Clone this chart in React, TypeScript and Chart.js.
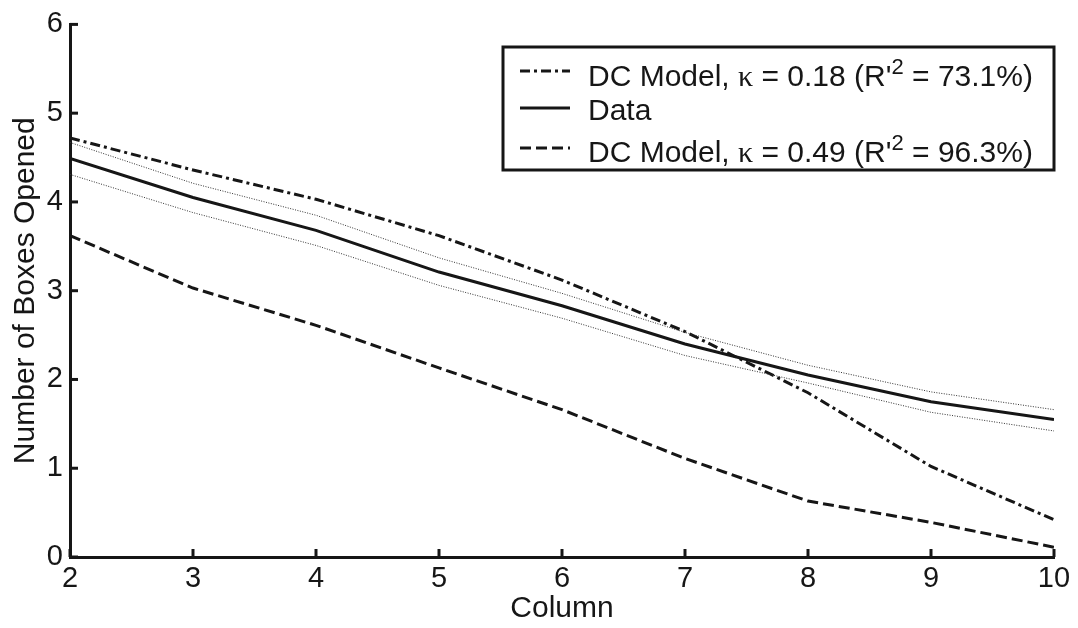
import React, { useEffect, useRef } from "react";
import { Chart, registerables } from "chart.js";
Chart.register(...registerables);

const columns = [2, 3, 4, 5, 6, 7, 8, 9, 10];
const dataMean = [4.49, 4.05, 3.68, 3.21, 2.83, 2.4, 2.05, 1.75, 1.55];
const dataUpper = [4.67, 4.21, 3.85, 3.37, 2.97, 2.53, 2.16, 1.86, 1.66];
const dataLower = [4.31, 3.88, 3.51, 3.06, 2.69, 2.27, 1.96, 1.63, 1.42];
const model018 = [4.72, 4.36, 4.03, 3.62, 3.12, 2.54, 1.85, 1.02, 0.42];
const model049 = [3.62, 3.03, 2.61, 2.13, 1.66, 1.11, 0.63, 0.39, 0.11];
const xTicks = [2, 3, 4, 5, 6, 7, 8, 9, 10];
const yTicks = [0, 1, 2, 3, 4, 5, 6];
const xTitle = "Column";
const yTitle = "Number of Boxes Opened";
const legendKappa = ["0.18", "", "0.49"];
const legendR2 = ["73.1%", "", "96.3%"];

const SANS = "'Liberation Sans', Arial, sans-serif";
const SERIF = "'Liberation Serif', 'DejaVu Serif', serif";
const INK = "#161616";

const toPts = (ys: number[]) => columns.map((x, i) => ({ x, y: ys[i] }));

const dashDot = [10, 4, 3, 4];
const dashed = [11, 5];

const tickPlugin = {
  id: "inwardTicks",
  afterDatasetsDraw(chart: any) {
    const { ctx, chartArea, scales } = chart;
    ctx.save();
    ctx.strokeStyle = INK;
    ctx.lineWidth = 3;
    ctx.setLineDash([]);
    xTicks.forEach((v) => {
      const px = scales.x.getPixelForValue(v);
      ctx.beginPath();
      ctx.moveTo(px, chartArea.bottom);
      ctx.lineTo(px, chartArea.bottom - 8);
      ctx.stroke();
    });
    yTicks.forEach((v) => {
      const py = scales.y.getPixelForValue(v);
      ctx.beginPath();
      ctx.moveTo(chartArea.left, py);
      ctx.lineTo(chartArea.left + 8, py);
      ctx.stroke();
    });
    ctx.restore();
  },
};

const legendPlugin = {
  id: "customLegend",
  afterDraw(chart: any) {
    const { ctx } = chart;
    ctx.save();
    const bx = 503, by = 47, bw = 551, bh = 123;
    ctx.fillStyle = "#fff";
    ctx.fillRect(bx, by, bw, bh);
    ctx.strokeStyle = INK;
    ctx.lineWidth = 3;
    ctx.setLineDash([]);
    ctx.strokeRect(bx, by, bw, bh);

    const rows = [
      { lineY: 71, base: 86, dash: dashDot, kind: 0 },
      { lineY: 108, base: 120, dash: [] as number[], kind: 1 },
      { lineY: 148, base: 162, dash: dashed, kind: 2 },
    ];
    rows.forEach((r, i) => {
      ctx.strokeStyle = INK;
      ctx.lineWidth = 3;
      ctx.setLineDash(r.dash);
      ctx.beginPath();
      ctx.moveTo(520, r.lineY);
      ctx.lineTo(570, r.lineY);
      ctx.stroke();
      ctx.setLineDash([]);
      ctx.fillStyle = INK;
      ctx.textBaseline = "alphabetic";
      ctx.textAlign = "left";
      let x = 588;
      const put = (t: string, font: string, dy = 0) => {
        ctx.font = font;
        ctx.fillText(t, x, r.base + dy);
        x += ctx.measureText(t).width;
      };
      if (r.kind === 1) {
        put("Data", `30px ${SANS}`);
      } else {
        put("DC Model, ", `30px ${SANS}`);
        put("\u03BA", `30px ${SERIF}`);
        put(" = " + legendKappa[i] + " (R'", `30px ${SANS}`);
        put("2", `22px ${SANS}`, -12);
        put(" = " + legendR2[i] + ")", `30px ${SANS}`);
      }
    });
    ctx.restore();
  },
};

export default function App() {
  const ref = useRef<HTMLCanvasElement>(null);
  useEffect(() => {
    if (!ref.current) return;
    const font = { family: SANS, size: 29 };
    const chart = new Chart(ref.current, {
      type: "line",
      data: {
        datasets: [
          {
            label: "upper",
            data: toPts(dataUpper),
            borderColor: "#333",
            borderWidth: 1,
            borderDash: [1, 1.5],
            pointRadius: 0,
          },
          {
            label: "lower",
            data: toPts(dataLower),
            borderColor: "#333",
            borderWidth: 1,
            borderDash: [1, 1.5],
            pointRadius: 0,
          },
          {
            label: "Data",
            data: toPts(dataMean),
            borderColor: INK,
            borderWidth: 3,
            pointRadius: 0,
          },
          {
            label: "DC Model, κ = 0.18",
            data: toPts(model018),
            borderColor: INK,
            borderWidth: 3,
            borderDash: dashDot,
            pointRadius: 0,
          },
          {
            label: "DC Model, κ = 0.49",
            data: toPts(model049),
            borderColor: INK,
            borderWidth: 3,
            borderDash: dashed,
            pointRadius: 0,
          },
        ],
      },
      options: {
        animation: false,
        responsive: false,
        layout: { padding: { top: 15, right: 24, left: 0, bottom: 0 } },
        plugins: { legend: { display: false }, tooltip: { enabled: false } },
        elements: { line: { tension: 0 } },
        scales: {
          x: {
            type: "linear",
            min: 2,
            max: 10,
            ticks: { stepSize: 1, color: INK, font, padding: 5 },
            grid: { display: false, drawTicks: false },
            border: { display: true, width: 3, color: INK },
            title: { display: true, text: xTitle, color: INK, font: { family: SANS, size: 30 }, padding: { top: 0, bottom: 1 } },
            afterFit: (s: any) => {
              s.height = 71;
            },
          },
          y: {
            type: "linear",
            min: 0,
            max: 6,
            ticks: { stepSize: 1, color: INK, font, padding: 7 },
            grid: { display: false, drawTicks: false },
            border: { display: true, width: 3, color: INK },
            title: { display: true, text: yTitle, color: INK, font: { family: SANS, size: 30 }, padding: { top: 8, bottom: 0 } },
            afterFit: (s: any) => {
              s.width = 70;
            },
          },
        },
      },
      plugins: [tickPlugin, legendPlugin],
    } as any);
    return () => chart.destroy();
  }, []);
  return (
    <div style={{ position: "absolute", left: 0, top: 0, width: 1078, height: 628, background: "#fff" }}>
      <canvas ref={ref} width={1078} height={628} style={{ width: 1078, height: 628, display: "block" }} />
    </div>
  );
}
